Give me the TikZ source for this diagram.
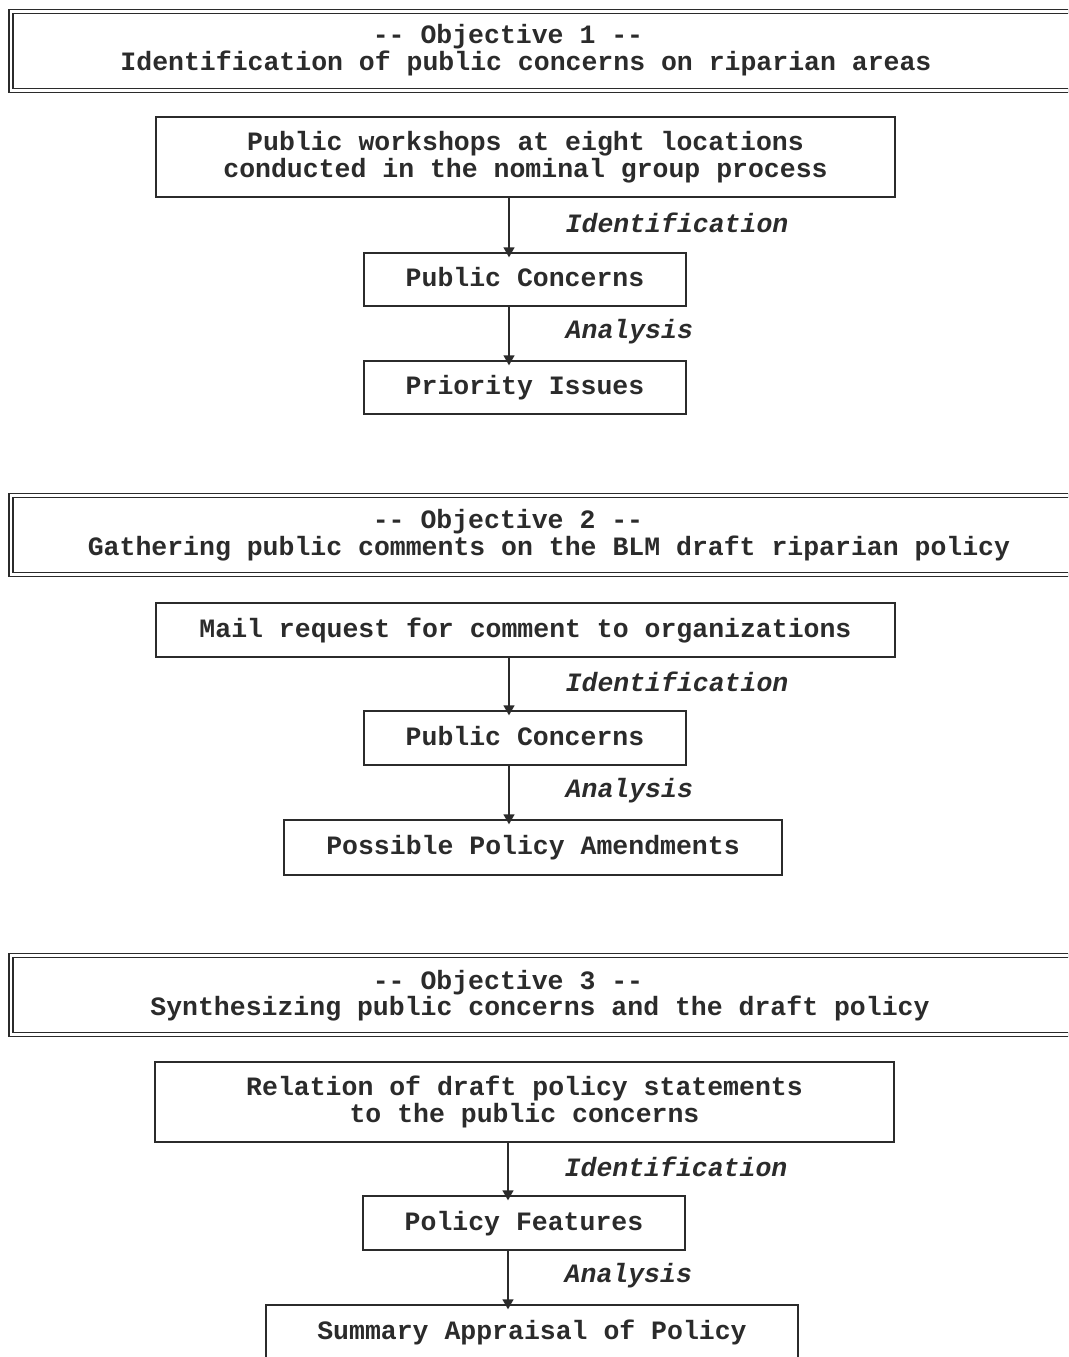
\documentclass[tikz,border=0pt]{standalone}
\usepackage{fontspec}
\setmonofont{Liberation Mono}
\usetikzlibrary{arrows.meta,positioning}
\definecolor{inkcolor}{HTML}{2B2B2B}
\newcommand{\dashpair}{-\kern0pt-}

\begin{document}
\begin{tikzpicture}[x=1pt,y=-1pt,
    font=\ttfamily\bfseries\fontsize{26.5}{27}\selectfont, text=inkcolor,
    objbox/.style={draw=inkcolor, double, double distance=2.5pt, line width=1.3pt, inner sep=0pt, minimum width=1100pt, minimum height=79pt},
    stagebox/.style={draw=inkcolor, line width=1.4pt, inner sep=0pt, align=center},
    lonebox/.style={stagebox, text height=18pt, text depth=4pt},
    titleline/.style={inner sep=0pt, text height=18pt, text depth=4pt},
    flow/.style={draw=inkcolor, line width=1.4pt, shorten >=-5pt, -{Triangle[length=10pt,width=11pt]}},
    steplabel/.style={font=\ttfamily\bfseries\itshape\fontsize{26.5}{27}\selectfont, inner sep=0pt, anchor=west, xshift=56pt, yshift=2pt}]
  \useasboundingbox (0,0) rectangle (1068,1357);
  \clip (0,0) rectangle (1068,1357);

  % Objective 1
  \node[objbox] (obj1) at (561,51) {};
  \node[titleline] (obj1a) at (508,36) {\dashpair{} Objective 1 \dashpair};
  \node[titleline] (obj1b) at (526,63) {Identification of public concerns on riparian areas};

  \node[stagebox, minimum width=739pt, minimum height=80pt] (work1) at (525.5,157)
    {Public workshops at eight locations\\conducted in the nominal group process};
  \node[lonebox, minimum width=322pt, minimum height=53pt] (concern1) at (525,279.5) {Public Concerns};
  \node[lonebox, minimum width=322pt, minimum height=53pt] (issue1) at (525,387.5) {Priority Issues};

  \coordinate (axis1) at (509,0);
  \draw[flow] (work1.south -| axis1) -- (concern1.north -| axis1)
    node[steplabel, midway] (ident1) {Identification};
  \draw[flow] (concern1.south -| axis1) -- (issue1.north -| axis1)
    node[steplabel, midway] (anal1) {Analysis};

  % Objective 2
  \node[objbox] (obj2) at (561,535) {};
  \node[titleline] (obj2a) at (508,521) {\dashpair{} Objective 2 \dashpair};
  \node[titleline] (obj2b) at (549,548) {Gathering public comments on the BLM draft riparian policy};

  \node[lonebox, minimum width=739pt, minimum height=54pt] (mail2) at (525.5,630) {Mail request for comment to organizations};
  \node[lonebox, minimum width=322pt, minimum height=54pt] (concern2) at (525,738) {Public Concerns};
  \node[lonebox, minimum width=498pt, minimum height=55pt] (amend2) at (533,847.5) {Possible Policy Amendments};

  \coordinate (axis2) at (509,0);
  \draw[flow] (mail2.south -| axis2) -- (concern2.north -| axis2)
    node[steplabel, midway] (ident2) {Identification};
  \draw[flow] (concern2.south -| axis2) -- (amend2.north -| axis2)
    node[steplabel, midway] (anal2) {Analysis};

  % Objective 3
  \node[objbox] (obj3) at (561,995) {};
  \node[titleline] (obj3a) at (508,982) {\dashpair{} Objective 3 \dashpair};
  \node[titleline] (obj3b) at (540,1008) {Synthesizing public concerns and the draft policy};

  \node[stagebox, minimum width=739pt, minimum height=80pt] (rel3) at (524.5,1102)
    {Relation of draft policy statements\\to the public concerns};
  \node[lonebox, minimum width=322pt, minimum height=54pt] (feat3) at (524,1223) {Policy Features};
  \node[lonebox, minimum width=532pt, minimum height=54pt] (summ3) at (532,1332) {Summary Appraisal of Policy};

  \coordinate (axis3) at (508,0);
  \draw[flow] (rel3.south -| axis3) -- (feat3.north -| axis3)
    node[steplabel, midway] (ident3) {Identification};
  \draw[flow] (feat3.south -| axis3) -- (summ3.north -| axis3)
    node[steplabel, midway] (anal3) {Analysis};
\end{tikzpicture}
\end{document}
